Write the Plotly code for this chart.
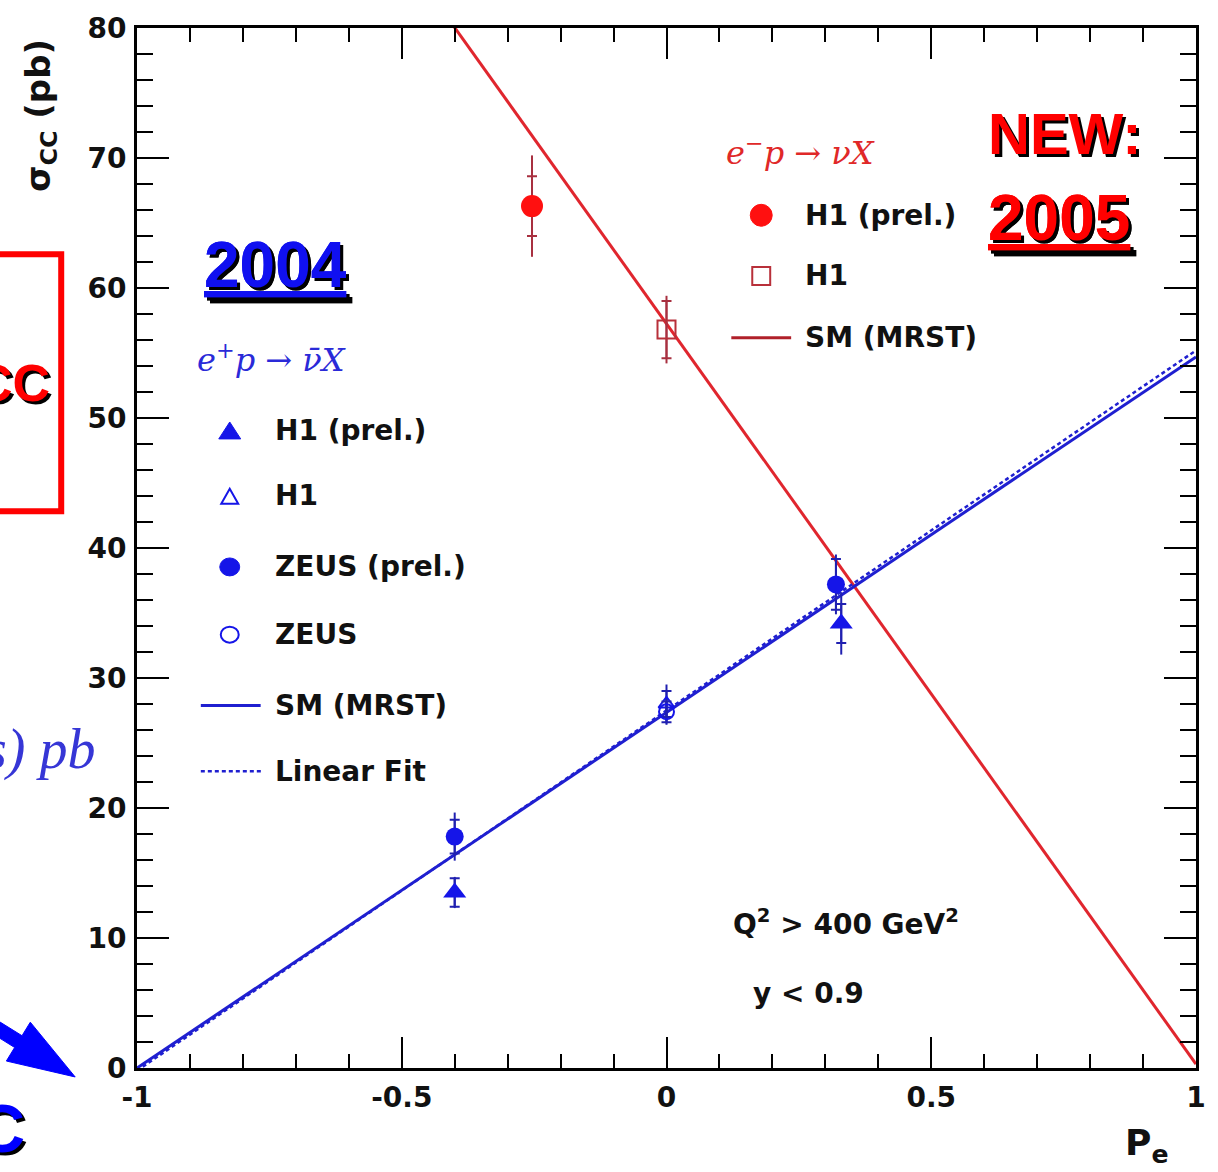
import plotly.graph_objects as go

# ---------------- data ----------------
# e- p -> nu X  (red)
em_h1prel_pol = [-0.254]
em_h1prel_sig = [66.3]
em_h1prel_stat = [2.3]
em_h1prel_tot = [3.9]

em_h1_pol = [0.0]
em_h1_sig = [56.8]
em_h1_stat = [2.2]
em_h1_tot = [2.6]

# e+ p -> nubar X  (blue)
ep_h1prel_pol = [-0.40, 0.33]
ep_h1prel_sig = [13.5, 34.2]
ep_h1prel_stat = [1.1, 1.5]
ep_h1prel_tot = [1.2, 2.4]

ep_h1_pol = [0.0]
ep_h1_sig = [28.0]
ep_h1_stat = [1.0]
ep_h1_tot = [1.5]

ep_zeusprel_pol = [-0.40, 0.32]
ep_zeusprel_sig = [17.8, 37.2]
ep_zeusprel_stat = [1.3, 1.95]
ep_zeusprel_tot = [1.85, 2.3]

ep_zeus_pol = [0.0]
ep_zeus_sig = [27.4]
ep_zeus_stat = [0.8]
ep_zeus_tot = [1.0]

# Standard Model (MRST) predictions and the linear fit
sm_pol = [-1.0, 1.0]
sm_em_sig = [114.2, 0.3]
sm_ep_sig = [0.0, 54.7]
fit_ep_sig = [-0.2, 55.2]

x_tickvals = [-1, -0.5, 0, 0.5, 1]
x_ticktext = ["-1", "-0.5", "0", "0.5", "1"]
y_tickvals = [0, 10, 20, 30, 40, 50, 60, 70, 80]
y_ticktext = ["0", "10", "20", "30", "40", "50", "60", "70", "80"]

# ---------------- style ----------------
W, H = 1218, 1172
L, R, T, B = 137, 19, 24, 104
PW, PH = W - L - R, H - T - B

RED = "#ff1010"
RED_DARK = "#b8303a"
RED_LINE = "#e0262e"
BLUE = "#1515e8"
BLUE_LINE = "#1f1fd0"
BLUE_ERR = "#2020b0"
SANS = "DejaVu Sans"


def px(x):
    return (x - L) / PW


def py(y):
    return (H - B - y) / PH


fig = go.Figure()

# Standard Model curves
fig.add_trace(go.Scatter(x=sm_pol, y=sm_em_sig, mode="lines",
                         line=dict(color=RED_LINE, width=3), showlegend=False))
fig.add_trace(go.Scatter(x=sm_pol, y=fit_ep_sig, mode="lines",
                         line=dict(color=BLUE_LINE, width=2.5, dash="4px,3px"),
                         showlegend=False))
fig.add_trace(go.Scatter(x=sm_pol, y=sm_ep_sig, mode="lines",
                         line=dict(color=BLUE_LINE, width=3), showlegend=False))


def add_points(xs, ys, stat, tot, symbol, size, color, ecolor, open_=False):
    # total error: plain vertical line
    fig.add_trace(go.Scatter(
        x=xs, y=ys, mode="markers",
        marker=dict(size=1, color="rgba(0,0,0,0)"),
        error_y=dict(type="data", array=tot, width=0, thickness=2, color=ecolor),
        showlegend=False, hoverinfo="skip"))
    # statistical error: short cross ticks, plus the marker on top
    mk = dict(symbol=symbol, size=size, color=color)
    if open_:
        mk["line"] = dict(color=color, width=2)
    fig.add_trace(go.Scatter(
        x=xs, y=ys, mode="markers", marker=mk,
        error_y=dict(type="data", array=stat, width=5, thickness=2, color=ecolor),
        showlegend=False))


add_points(em_h1prel_pol, em_h1prel_sig, em_h1prel_stat, em_h1prel_tot,
           "circle", 22, RED, "#a83040")
add_points(em_h1_pol, em_h1_sig, em_h1_stat, em_h1_tot,
           "square-open", 18, RED_DARK, "#a83040", open_=True)
add_points(ep_h1prel_pol, ep_h1prel_sig, ep_h1prel_stat, ep_h1prel_tot,
           "triangle-up", 20, BLUE, BLUE_ERR)
add_points(ep_h1_pol, ep_h1_sig, ep_h1_stat, ep_h1_tot,
           "triangle-up-open", 14, BLUE, BLUE_ERR, open_=True)
add_points(ep_zeusprel_pol, ep_zeusprel_sig, ep_zeusprel_stat, ep_zeusprel_tot,
           "circle", 18, BLUE, BLUE_ERR)
add_points(ep_zeus_pol, ep_zeus_sig, ep_zeus_stat, ep_zeus_tot,
           "circle-open", 15, BLUE, BLUE_ERR, open_=True)

shapes = []
ann = []


def text(x, y, s, size=28, color="#111111", xanchor="left", family=SANS,
         weight="bold", style="normal", **kw):
    ann.append(dict(x=px(x), y=py(y), xref="paper", yref="paper", text=s,
                    showarrow=False, xanchor=xanchor, yanchor="middle",
                    font=dict(family=family, size=size, color=color,
                              weight=weight, style=style, **kw)))


# ---- legend for e- p ----
text(726, 147, "e<sup>\u2212</sup>p \u2192 \u03bdX", size=32, color="#e02828",
     family="DejaVu Serif", weight="normal", style="italic")
shapes.append(dict(type="circle", xref="paper", yref="paper",
                   x0=px(752), x1=px(774), y0=py(223), y1=py(201),
                   fillcolor=RED, line=dict(color=RED, width=1)))
text(805, 212, "H1 (prel.)")
shapes.append(dict(type="rect", xref="paper", yref="paper",
                   x0=px(754), x1=px(772), y0=py(282), y1=py(264),
                   line=dict(color=RED_DARK, width=2)))
text(805, 272, "H1")
shapes.append(dict(type="line", xref="paper", yref="paper",
                   x0=px(733), x1=px(793), y0=py(335), y1=py(335),
                   line=dict(color="#b0202a", width=3)))
text(805, 335, "SM (MRST)")

# ---- legend for e+ p ----
text(195, 355, "e<sup>+</sup>p \u2192 \u03bd\u0304X", size=32, color="#2a2ad8",
     family="DejaVu Serif", weight="normal", style="italic")


def tri(cx, cy, w, h):
    return "M{},{} L{},{} L{},{} Z".format(
        px(cx - w / 2), py(cy + h / 2), px(cx + w / 2), py(cy + h / 2),
        px(cx), py(cy - h / 2))


shapes.append(dict(type="path", xref="paper", yref="paper", path=tri(230, 428, 22, 17),
                   fillcolor=BLUE, line=dict(color=BLUE, width=1)))
text(273, 428, "H1 (prel.)")
shapes.append(dict(type="path", xref="paper", yref="paper", path=tri(230, 494, 17, 15),
                   line=dict(color=BLUE, width=2)))
text(273, 493, "H1")
shapes.append(dict(type="circle", xref="paper", yref="paper",
                   x0=px(220), x1=px(240), y0=py(574), y1=py(556),
                   fillcolor=BLUE, line=dict(color=BLUE, width=1)))
text(273, 565, "ZEUS (prel.)")
shapes.append(dict(type="circle", xref="paper", yref="paper",
                   x0=px(221), x1=px(239), y0=py(641), y1=py(625),
                   line=dict(color=BLUE, width=2)))
text(273, 633, "ZEUS")
shapes.append(dict(type="line", xref="paper", yref="paper",
                   x0=px(201), x1=px(261), y0=py(704), y1=py(704),
                   line=dict(color=BLUE_LINE, width=3)))
text(273, 704, "SM (MRST)")
shapes.append(dict(type="line", xref="paper", yref="paper",
                   x0=px(201), x1=px(262), y0=py(770), y1=py(770),
                   line=dict(color=BLUE_LINE, width=2.5, dash="4px,3px")))
text(273, 770, "Linear Fit")

# ---- kinematic cuts ----
text(733, 922, "Q<sup>2</sup> > 400 GeV<sup>2</sup>")
text(753, 993, "y < 0.9")

# ---- axis titles ----
ann.append(dict(x=px(40), y=py(112), xref="paper", yref="paper",
                text="\u03c3<sub>CC</sub> (pb)", textangle=-90, showarrow=False,
                xanchor="center", yanchor="middle",
                font=dict(family=SANS, size=34, color="#111111", weight="bold")))
text(1126, 1146, "P<sub>e</sub>", size=36)

# ---- year labels ----
SHADOW = "3px 3px 0px #000000"
text(1068, 130, "NEW:", size=58, color="#ff0000", xanchor="center",
     family="Liberation Sans", shadow=SHADOW)
text(1062, 215, "2005", size=64, color="#ff0000", xanchor="center",
     family="Liberation Sans", shadow=SHADOW, lineposition="under")
text(276, 262, "2004", size=64, color="#1010f0", xanchor="center",
     family="Liberation Sans", shadow=SHADOW, lineposition="under")

# ---- slide pieces around the plot ----
shapes.append(dict(type="rect", xref="paper", yref="paper",
                   x0=px(-20), x1=px(61), y0=py(509), y1=py(251),
                   line=dict(color="#ff0000", width=6)))
text(52, 380, "CC", size=52, color="#ff0000", xanchor="right",
     family="Liberation Sans", shadow=SHADOW)
text(97, 748, "s) pb", size=56, color="#3636d6", xanchor="right",
     family="Liberation Serif", weight="normal", style="italic")
text(27, 1128, "C", size=68, color="#0000ff", xanchor="right",
     family="Liberation Sans", shadow=SHADOW)

arrow_pts = [(-12.2, 1014.5), (21.7, 1035.6), (30, 1022), (75, 1077),
             (6, 1061), (14.3, 1047.4), (-19.6, 1026.3)]
arrow_path = "M" + " L".join("{},{}".format(px(a), py(b)) for a, b in arrow_pts) + " Z"
shapes.append(dict(type="path", xref="paper", yref="paper", path=arrow_path,
                   fillcolor="#0000ff", line=dict(color="#0000ff", width=1)))

fig.update_layout(
    width=W, height=H,
    margin=dict(l=L, r=R, t=T, b=B, pad=0),
    paper_bgcolor="white", plot_bgcolor="white",
    showlegend=False,
    shapes=shapes, annotations=ann,
    xaxis=dict(range=[-1, 1], tickmode="array", tickvals=x_tickvals, ticktext=x_ticktext,
               ticks="inside", ticklen=31, tickwidth=2, tickcolor="black",
               showline=True, linewidth=3, linecolor="black", mirror="allticks",
               showgrid=False, zeroline=False, ticklabelstandoff=2,
               tickfont=dict(family=SANS, size=28, color="#111111", weight="bold"),
               minor=dict(dtick=0.1, tick0=0, ticks="inside", ticklen=14,
                          tickwidth=2, tickcolor="black", showgrid=False)),
    yaxis=dict(range=[0, 80], tickmode="array", tickvals=y_tickvals, ticktext=y_ticktext,
               ticks="inside", ticklen=32, tickwidth=2, tickcolor="black",
               showline=True, linewidth=3, linecolor="black", mirror="allticks",
               showgrid=False, zeroline=False, ticklabelstandoff=2,
               tickfont=dict(family=SANS, size=28, color="#111111", weight="bold"),
               minor=dict(dtick=2, tick0=0, ticks="inside", ticklen=16,
                          tickwidth=2, tickcolor="black", showgrid=False)),
)

fig.write_html("out.html")
